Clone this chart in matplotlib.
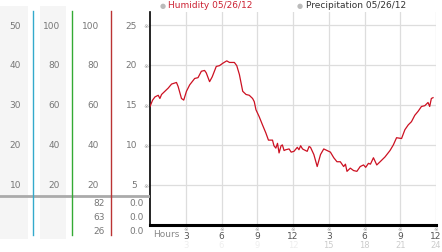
import matplotlib.pyplot as plt

# humidity trace, hours since midnight -> value
hours = [0.00, 0.22, 0.42, 0.69, 0.83, 0.97, 1.25, 1.53, 1.81, 2.22, 2.36, 2.64, 2.83,
         3.06, 3.33, 3.75, 4.03, 4.31, 4.58, 4.72, 5.00, 5.22, 5.56, 5.83, 6.11, 6.44,
         6.67, 7.08, 7.28, 7.50, 7.78, 8.06, 8.33, 8.61, 8.75, 8.89, 9.17, 9.44, 9.72,
         9.94, 10.28, 10.40, 10.56, 10.70, 10.83, 11.00, 11.11, 11.25, 11.39, 11.67,
         11.85, 12.08, 12.36, 12.50, 12.64, 12.80, 12.92, 13.19, 13.35, 13.47, 13.75,
         14.03, 14.31, 14.58, 14.86, 15.14, 15.42, 15.69, 15.97, 16.25, 16.40, 16.53,
         16.81, 17.08, 17.36, 17.64, 17.92, 18.10, 18.33, 18.50, 18.75, 19.03, 19.31,
         19.72, 20.14, 20.42, 20.69, 21.11, 21.39, 21.67, 21.94, 22.22, 22.50, 22.78,
         23.06, 23.33, 23.47, 23.61, 23.75]
humidity = [14.8, 15.6, 16.0, 16.2, 15.8, 16.3, 16.7, 17.1, 17.6, 17.8, 17.3, 15.8, 15.6,
            16.7, 17.5, 18.3, 18.4, 19.2, 19.3, 19.0, 17.9, 18.5, 19.8, 19.9, 20.2, 20.5,
            20.3, 20.3, 19.9, 18.8, 16.7, 16.3, 16.2, 15.8, 15.4, 14.4, 13.5, 12.5, 11.5,
            10.6, 10.6, 9.9, 9.6, 10.2, 9.0, 9.9, 10.0, 9.3, 9.4, 9.5, 9.1, 9.2, 9.7, 9.4,
            9.9, 9.5, 9.4, 9.2, 9.8, 9.7, 8.8, 7.3, 8.8, 9.5, 9.3, 9.1, 8.4, 7.9, 7.9, 7.3,
            7.6, 6.7, 7.1, 6.8, 6.7, 7.3, 7.5, 7.2, 7.7, 7.6, 8.4, 7.5, 7.9, 8.5, 9.3, 10.0,
            10.9, 10.8, 11.9, 12.5, 12.9, 13.7, 14.2, 14.8, 14.9, 15.3, 14.8, 15.8, 15.9]

y_ticks = [5, 10, 15, 20, 25]
col1 = [10, 20, 30, 40, 50]
col2 = [20, 40, 60, 80, 100]
col3 = [20, 40, 60, 80, 100]
x_ticks = [3, 6, 9, 12, 15, 18, 21, 24]
x_labels = ["3", "6", "9", "12", "3", "6", "9", "12"]
x_labels24 = ["3", "6", "9", "12", "15", "18", "21", "24"]
row_y = [2.75, 1.0, -0.75]
row_a = ["82", "63", "26"]
row_b = ["0.0", "0.0", "0.0"]

W, H = 442, 253
fig = plt.figure(figsize=(W / 100, H / 100), dpi=100)
fig.patch.set_facecolor("white")
fs = 6.5
grey = "#777777"

# main plot
ax = fig.add_axes([150 / W, 27 / H, 286 / W, 213 / H])
ax.set_xlim(0, 24)
ax.set_ylim(0, 26.6)
for v in y_ticks:
    ax.axhline(v, color="#dddddd", lw=0.9, zorder=0)
for v in x_ticks:
    ax.axvline(v, color="#dddddd", lw=0.9, zorder=0)
ax.plot(hours, humidity, color="#cc1122", lw=0.9, zorder=3)
for s in ["top", "right"]:
    ax.spines[s].set_visible(False)
ax.spines["left"].set_color("black")
ax.spines["left"].set_linewidth(1.2)
ax.spines["bottom"].set_color("black")
ax.spines["bottom"].set_linewidth(2.2)
ax.set_yticks([])
ax.set_xticks(x_ticks)
ax.set_xticklabels(x_labels, fontsize=fs, color="#555555")
ax.tick_params(axis="x", length=0, pad=4)
for t, lab in zip(x_ticks, x_labels24):
    c = "#eeeeee" if t <= 12 else "#cccccc"
    ax.text(t, -0.072, lab, transform=ax.get_xaxis_transform(), ha="center", va="top",
            fontsize=6, color=c)
    ax.text(t, -0.005, "※", transform=ax.get_xaxis_transform(), ha="center", va="top",
            fontsize=4, color="#999999")
ax.text(0.012, -0.02, "Hours", transform=ax.transAxes, ha="left", va="top",
        fontsize=fs, color="#888888")

# legend
fig.text(160 / W, 1 - 6 / H, "●", color="#bbbbbb", fontsize=5, va="center", ha="left")
fig.text(168 / W, 1 - 6 / H, "Humidity 05/26/12", color="#cc2233", fontsize=fs,
         va="center", ha="left")
fig.text(297 / W, 1 - 6 / H, "●", color="#bbbbbb", fontsize=5, va="center", ha="left")
fig.text(306 / W, 1 - 6 / H, "Precipitation 05/26/12", color="#333333", fontsize=fs,
         va="center", ha="left")

# left scale panel
axl = fig.add_axes([0, 0, 150 / W, 1])
axl.set_xlim(0, 150)
axl.set_ylim(-27 / 8, (H - 27) / 8)
axl.axis("off")
axl.axvspan(0, 28, ymin=13 / H, ymax=1 - 7 / H, color="#f5f5f5", lw=0)
axl.axvspan(40, 66, ymin=13 / H, ymax=1 - 7 / H, color="#f5f5f5", lw=0)
axl.axhline(3.6, xmin=0, xmax=1, color="#aaaaaa", lw=2)
axl.plot([33, 33], [26.7, -1.3], color="#33aacc", lw=1)
axl.plot([72, 72], [26.7, -1.3], color="#33aa33", lw=1)
axl.plot([111, 111], [26.7, -1.3], color="#bb3333", lw=1)
for v, a, b, c in zip(y_ticks, col1, col2, col3):
    axl.text(21, v, str(a), ha="right", va="center", fontsize=fs, color=grey)
    axl.text(60, v, str(b), ha="right", va="center", fontsize=fs, color=grey)
    axl.text(99, v, str(c), ha="right", va="center", fontsize=fs, color=grey)
    axl.text(137, v, str(v), ha="right", va="center", fontsize=fs, color=grey)
    axl.text(146, v, "※", ha="center", va="center", fontsize=4.5, color="#999999")
for y, a, b in zip(row_y, row_a, row_b):
    axl.text(105, y, a, ha="right", va="center", fontsize=fs, color=grey)
    axl.text(144, y, b, ha="right", va="center", fontsize=fs, color=grey)

fig.savefig("out.png", dpi=100)
